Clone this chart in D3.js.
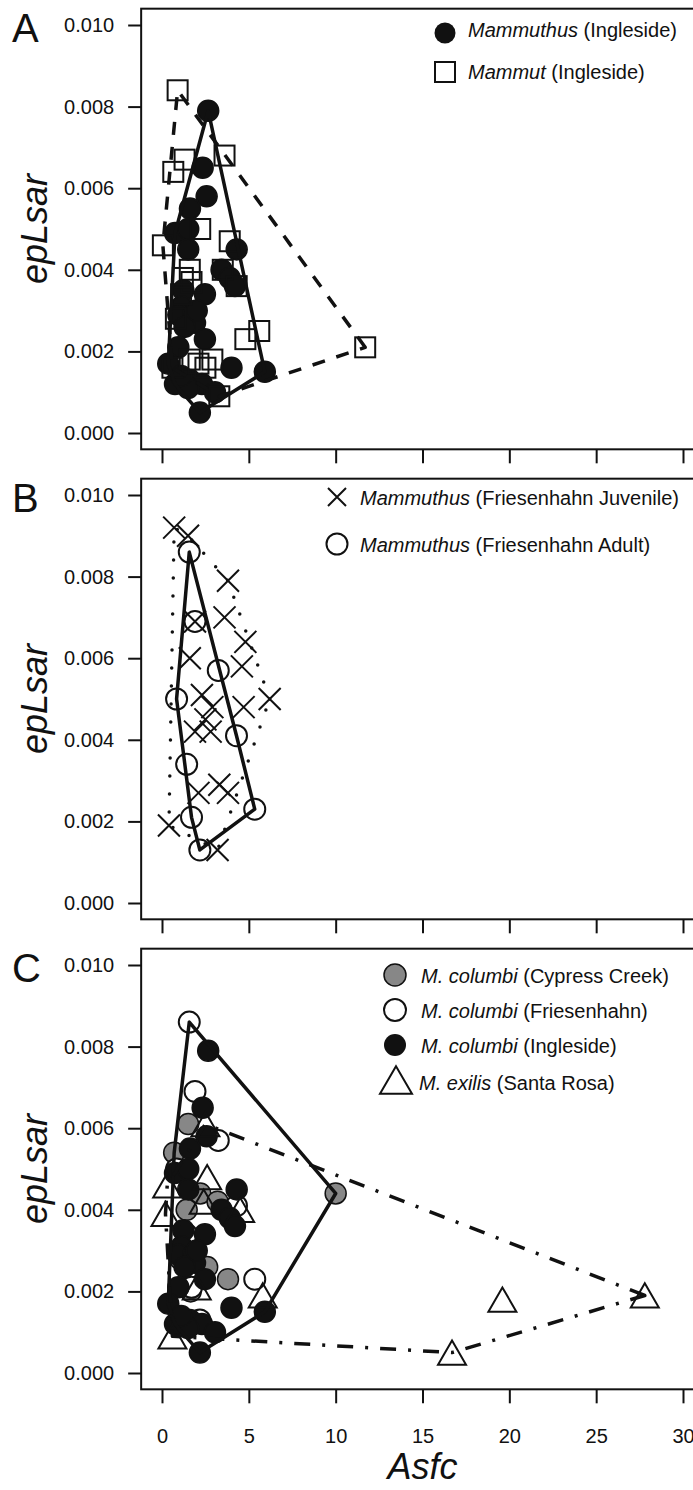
<!DOCTYPE html>
<html>
<head>
<meta charset="utf-8">
<script src="https://cdn.jsdelivr.net/npm/d3@7"></script>
<style>
  body { margin: 0; background: #fff; }
  text { font-family: "Liberation Sans", Arial, sans-serif; fill: #111; }
</style>
</head>
<body>
<script>
// axis ticks
var xTicks = [0, 5, 10, 15, 20, 25, 30];
var yTicks = [0, 0.002, 0.004, 0.006, 0.008, 0.010];

// Mammuthus (Ingleside) == M. columbi (Ingleside)
var ingleAsfc = [2.66, 2.34, 2.57, 1.61, 0.75, 1.51, 1.51, 4.3, 3.43, 3.9, 4.2, 2.47, 1.23, 1.13, 0.94, 1.8,
  1.9, 1.3, 2.0, 2.47, 0.94, 0.36, 4.0, 5.92, 0.75, 1.61, 2.3, 3.05, 2.18, 1.5, 1.1];
var ingleEp = [0.0079, 0.0065, 0.0058, 0.0055, 0.0049, 0.0050, 0.0045, 0.0045, 0.0040, 0.0038, 0.0036, 0.0034,
  0.0035, 0.0031, 0.0029, 0.0029, 0.0027, 0.0026, 0.0030, 0.0023, 0.0021, 0.0017, 0.0016, 0.0015, 0.0012,
  0.0013, 0.0012, 0.0010, 0.0005, 0.0011, 0.0014];

// Mammut (Ingleside)
var mammutAsfc = [0.9, 3.6, 1.3, 0.65, 2.2, 0.05, 3.9, 1.6, 3.5, 4.3, 1.7, 1.2, 1.1, 0.8, 5.6, 4.8, 11.7,
  1.6, 2.9, 2.1, 2.5, 0.6, 3.3];
var mammutEp = [0.0084, 0.0068, 0.0067, 0.0064, 0.0050, 0.0046, 0.0047, 0.0040, 0.0040, 0.0036, 0.0037, 0.0038,
  0.0034, 0.0028, 0.0025, 0.0023, 0.0021, 0.0018, 0.0018, 0.0017, 0.0016, 0.0016, 0.0009];

// Mammuthus (Friesenhahn Juvenile)
var juvAsfc = [0.7, 1.5, 3.8, 3.6, 1.9, 4.8, 4.6, 1.6, 2.3, 6.2, 4.7, 2.9, 2.5, 1.9, 2.8, 2.1, 3.3, 3.8, 0.4, 3.2];
var juvEp = [0.0092, 0.0090, 0.0079, 0.0070, 0.0069, 0.0064, 0.0058, 0.0060, 0.0051, 0.0050, 0.0048, 0.0048,
  0.0045, 0.0042, 0.0042, 0.0027, 0.0029, 0.0027, 0.0019, 0.0013];

// Mammuthus (Friesenhahn Adult) == M. columbi (Friesenhahn)
var adultAsfc = [1.57, 1.9, 3.24, 0.84, 4.29, 1.42, 1.7, 5.34, 2.18];
var adultEp = [0.0086, 0.0069, 0.0057, 0.0050, 0.0041, 0.0034, 0.0021, 0.0023, 0.0013];

// M. columbi (Cypress Creek)
var cypressAsfc = [1.51, 0.7, 2.2, 3.2, 1.42, 1.03, 2.6, 3.8, 1.65, 10.0];
var cypressEp = [0.0061, 0.0054, 0.0044, 0.0042, 0.0040, 0.0028, 0.0026, 0.0023, 0.0020, 0.0044];

// M. exilis (Santa Rosa)
var exilisAsfc = [2.5, 2.6, 0.3, 0.2, 4.5, 2.4, 2.0, 5.8, 0.6, 16.7, 19.6, 27.8];
var exilisEp = [0.0061, 0.0048, 0.0046, 0.0039, 0.0040, 0.0042, 0.0021, 0.0019, 0.0009, 0.0005, 0.0018, 0.0019];

var ink = "#111";
var svg = d3.select("body").append("svg").attr("width", 693).attr("height", 1490);

var x = d3.scaleLinear().domain([0, 30]).range([162, 683]);

function pts(a, b) {
  return a.map(function(v, i) { return [v, b[i]]; });
}

// frame, axes and labels for one panel
function panel(off, letter, showX) {
  var y = d3.scaleLinear().domain([0, 0.01]).range([433 + off, 25 + off]);
  var g = svg.append("g");

  g.append("rect")
    .attr("x", x(-1.2)).attr("y", y(0.0104))
    .attr("width", x(31.2) - x(-1.2)).attr("height", y(-0.0004) - y(0.0104))
    .attr("fill", "none").attr("stroke", ink).attr("stroke-width", 2);

  var ya = g.append("g")
    .attr("transform", "translate(" + x(-1.2) + ",0)")
    .call(d3.axisLeft(y).tickValues(yTicks).tickFormat(d3.format(".3f")).tickSize(13).tickPadding(14));
  ya.select(".domain").remove();
  ya.selectAll("line").attr("stroke", ink).attr("stroke-width", 2);
  ya.selectAll("text").style("font-size", "20px").attr("fill", ink);

  var xa = g.append("g")
    .attr("transform", "translate(0," + y(-0.0004) + ")")
    .call(d3.axisBottom(x).tickValues(xTicks).tickSize(14).tickPadding(25)
      .tickFormat(showX ? d3.format("d") : function() { return ""; }));
  xa.select(".domain").remove();
  xa.selectAll("line").attr("stroke", ink).attr("stroke-width", 2);
  xa.selectAll("text").style("font-size", "20px").attr("fill", ink);

  g.append("text")
    .attr("x", 12).attr("y", off + 42)
    .style("font-size", "40px")
    .text(letter);

  g.append("text")
    .attr("transform", "translate(47," + y(0.005) + ") rotate(-90)")
    .attr("text-anchor", "middle")
    .style("font-size", "36px").style("font-style", "italic")
    .text("epLsar");

  return { g: g, y: y };
}

// marker helpers
function circles(p, data, r, fill, sw) {
  p.g.append("g").selectAll("circle").data(data).enter().append("circle")
    .attr("cx", function(d) { return x(d[0]); })
    .attr("cy", function(d) { return p.y(d[1]); })
    .attr("r", r).attr("fill", fill).attr("stroke", ink).attr("stroke-width", sw);
}
function squares(p, data, s) {
  p.g.append("g").selectAll("rect").data(data).enter().append("rect")
    .attr("x", function(d) { return x(d[0]) - s / 2; })
    .attr("y", function(d) { return p.y(d[1]) - s / 2; })
    .attr("width", s).attr("height", s)
    .attr("fill", "none").attr("stroke", ink).attr("stroke-width", 2);
}
function crossPath(cx, cy, h) {
  return "M" + (cx - h) + "," + (cy - h) + "L" + (cx + h) + "," + (cy + h) +
    "M" + (cx - h) + "," + (cy + h) + "L" + (cx + h) + "," + (cy - h);
}
function triPath(cx, cy, s) {
  var h = s * 0.866;
  return "M" + cx + "," + (cy - h / 2) + "L" + (cx + s / 2) + "," + (cy + h / 2) +
    "L" + (cx - s / 2) + "," + (cy + h / 2) + "Z";
}
function crosses(p, data, h) {
  p.g.append("g").selectAll("path").data(data).enter().append("path")
    .attr("d", function(d) { return crossPath(x(d[0]), p.y(d[1]), h); })
    .attr("fill", "none").attr("stroke", ink).attr("stroke-width", 2);
}
function triangles(p, data, s) {
  p.g.append("g").selectAll("path").data(data).enter().append("path")
    .attr("d", function(d) { return triPath(x(d[0]), p.y(d[1]), s); })
    .attr("fill", "none").attr("stroke", ink).attr("stroke-width", 2);
}
function hull(p, data, dash, cap) {
  var px = data.map(function(d) { return [x(d[0]), p.y(d[1])]; });
  var h = d3.polygonHull(px);
  p.g.append("path")
    .attr("d", d3.line().curve(d3.curveLinearClosed)(h))
    .attr("fill", "none").attr("stroke", ink).attr("stroke-width", 3.5)
    .attr("stroke-linejoin", "round")
    .attr("stroke-linecap", cap || "butt")
    .attr("stroke-dasharray", dash || null);
}
function legendText(g, tx, ty, ital, rest) {
  var t = g.append("text").attr("x", tx).attr("y", ty).style("font-size", "20px");
  t.append("tspan").style("font-style", "italic").text(ital);
  t.append("tspan").text(rest);
}

var ingle = pts(ingleAsfc, ingleEp);
var mammut = pts(mammutAsfc, mammutEp);
var juv = pts(juvAsfc, juvEp);
var adult = pts(adultAsfc, adultEp);
var cypress = pts(cypressAsfc, cypressEp);
var exilis = pts(exilisAsfc, exilisEp);

// Panel A
var pA = panel(0, "A", false);
circles(pA, ingle, 10.5, ink, 1.5);
squares(pA, mammut, 20);
hull(pA, ingle);
hull(pA, mammut, "13,12");
pA.g.append("circle").attr("cx", 445).attr("cy", 33).attr("r", 10.5).attr("fill", ink);
pA.g.append("rect").attr("x", 435).attr("y", 62).attr("width", 20).attr("height", 20)
  .attr("fill", "none").attr("stroke", ink).attr("stroke-width", 2);
legendText(pA.g, 468, 37, "Mammuthus", " (Ingleside)");
legendText(pA.g, 468, 79, "Mammut", " (Ingleside)");

// Panel B
var pB = panel(470, "B", false);
crosses(pB, juv, 11);
circles(pB, adult, 10.5, "none", 2);
hull(pB, adult);
hull(pB, juv, "0,18", "round");
pB.g.append("path").attr("d", crossPath(337, 497, 9))
  .attr("fill", "none").attr("stroke", ink).attr("stroke-width", 2);
pB.g.append("circle").attr("cx", 337).attr("cy", 544).attr("r", 10.5)
  .attr("fill", "none").attr("stroke", ink).attr("stroke-width", 2);
legendText(pB.g, 360, 505, "Mammuthus", " (Friesenhahn Juvenile)");
legendText(pB.g, 360, 552, "Mammuthus", " (Friesenhahn Adult)");

// Panel C
var pC = panel(940, "C", true);
circles(pC, cypress, 10.5, "#878787", 1.5);
circles(pC, adult, 10.5, "#fff", 2);
circles(pC, ingle, 10.5, ink, 1.5);
triangles(pC, exilis, 28);
hull(pC, cypress.concat(adult, ingle));
hull(pC, exilis, "16,12,3,12");

pC.g.append("circle").attr("cx", 395).attr("cy", 975).attr("r", 11)
  .attr("fill", "#878787").attr("stroke", ink).attr("stroke-width", 1.5);
pC.g.append("circle").attr("cx", 395).attr("cy", 1010).attr("r", 11)
  .attr("fill", "#fff").attr("stroke", ink).attr("stroke-width", 2);
pC.g.append("circle").attr("cx", 395).attr("cy", 1045).attr("r", 11).attr("fill", ink);
pC.g.append("path").attr("d", triPath(396, 1080, 32))
  .attr("fill", "none").attr("stroke", ink).attr("stroke-width", 2);
legendText(pC.g, 421, 983, "M. columbi", " (Cypress Creek)");
legendText(pC.g, 421, 1018, "M. columbi", " (Friesenhahn)");
legendText(pC.g, 421, 1053, "M. columbi", " (Ingleside)");
legendText(pC.g, 419, 1090, "M. exilis", " (Santa Rosa)");

// x axis title
svg.append("text")
  .attr("x", x(15)).attr("y", 1479)
  .attr("text-anchor", "middle")
  .style("font-size", "36px").style("font-style", "italic")
  .text("Asfc");
</script>
</body>
</html>
